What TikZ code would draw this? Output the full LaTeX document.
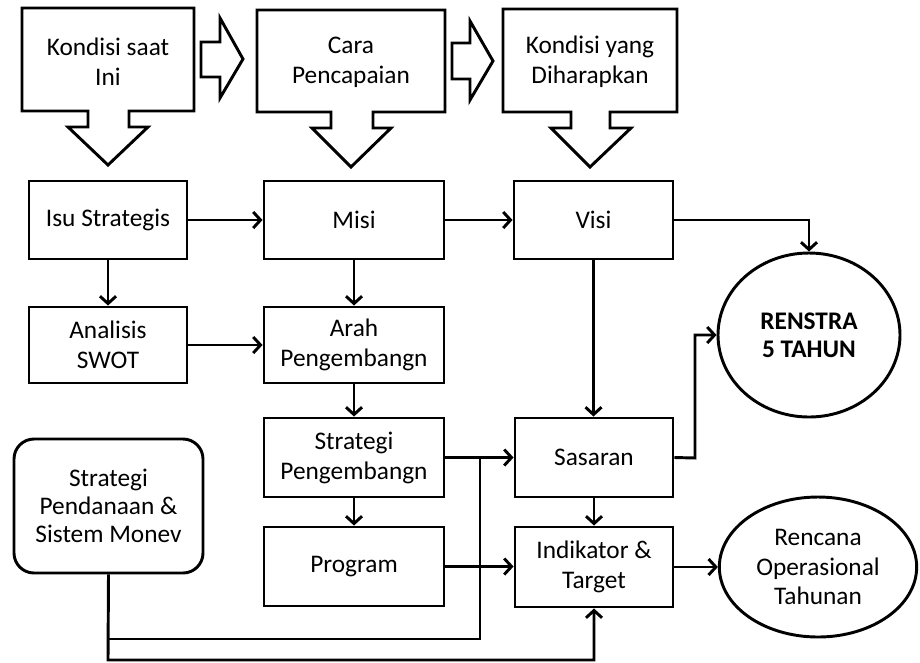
\documentclass[tikz,border=0pt]{standalone}
\usepackage{fontspec}
\setmainfont{Carlito}
\usetikzlibrary{arrows.meta,shapes.geometric}
\begin{document}
\begin{tikzpicture}[x=0.75pt,y=-0.75pt,
  line width=2.2pt,
  txt/.style={font=\fontsize{19}{22.5}\selectfont, align=center, inner sep=0pt},
  box/.style={draw, rectangle, txt, line width=2.2pt},
  oval/.style={draw, ellipse, txt, line width=2.2pt},
  callout/.style={draw, line width=2.2pt, line join=miter},
  conn/.style={line width=2.2pt, -{Straight Barb[length=5.5pt,width=12pt,line width=2.2pt]}},
  plain/.style={line width=2.2pt}
]
\useasboundingbox (0,0) rectangle (920,662);

% callouts
\draw[callout] (22,8) -- (194,8) -- (194,111) -- (129,111) -- (129,127) -- (148,127) -- (108,165) -- (68,127) -- (88,127) -- (88,111) -- (22,111) -- cycle;
\draw[callout] (257,10) -- (445,10) -- (445,112) -- (373,112) -- (373,128) -- (391,128) -- (351,167) -- (312,128) -- (331,128) -- (331,112) -- (257,112) -- cycle;
\draw[callout] (503,9) -- (677,9) -- (677,112) -- (610,112) -- (610,128) -- (631,128) -- (590,167) -- (551,128) -- (571,128) -- (571,112) -- (503,112) -- cycle;
\node[txt] (k1) at (108,62) {Kondisi saat\\Ini};
\node[txt] (k2) at (351,62) {Cara\\Pencapaian};
\node[txt] (k3) at (590,62) {Kondisi yang\\Diharapkan};

% block arrows
\draw[callout] (201,42) -- (220,42) -- (220,18) -- (243,59) -- (220,98) -- (220,77) -- (201,77) -- cycle;
\draw[callout] (452,43) -- (470,43) -- (470,21) -- (493,61) -- (470,100) -- (470,79) -- (452,79) -- cycle;

% boxes
\node[box, minimum width=118.5pt, minimum height=58.5pt] (isu) at (108,220) {Isu Strategis};
\node[box, minimum width=135pt, minimum height=58.5pt] (misi) at (354,220) {Misi};
\node[box, minimum width=119.25pt, minimum height=58.5pt] (visi) at (593.5,220) {Visi};
\node[box, minimum width=118.5pt, minimum height=57pt] (swot) at (108,345) {Analisis\\SWOT};
\node[box, minimum width=135pt, minimum height=57pt] (arah) at (354,345) {Arah\\Pengembangn};
\node[box, minimum width=135pt, minimum height=59.25pt] (strat) at (354,457.5) {Strategi\\Pengembangn};
\node[box, minimum width=135pt, minimum height=59.25pt] (prog) at (354,566.5) {Program};
\node[box, minimum width=118.5pt, minimum height=59.25pt] (sas) at (594,457.5) {Sasaran};
\node[box, minimum width=118.5pt, minimum height=60pt] (ind) at (594,567) {Indikator \&\\Target};
\node[box, rounded corners=15pt, minimum width=141.75pt, minimum height=100.5pt, font=\fontsize{19}{21}\selectfont] (dana) at (108.5,506) {Strategi\\Pendanaan \&\\Sistem Monev};
\node[oval, minimum width=136.5pt, minimum height=123pt, font=\fontsize{19}{21}\selectfont\bfseries] (renstra) at (809,335) {RENSTRA\\5 TAHUN};
\node[oval, minimum width=148pt, minimum height=105pt, font=\fontsize{19}{22}\selectfont] (renc) at (818,567) {Rencana\\Operasional\\Tahunan};

% connector helpers
\coordinate (vx) at (480,639);
\coordinate (low) at (108,660);
\coordinate (rx) at (695,458);

% connectors
\draw[conn] (isu) -- (misi);
\draw[conn] (misi) -- (visi);
\draw[conn] (visi.east) -| (renstra.north);
\draw[conn] (isu) -- (swot);
\draw[conn] (misi) -- (arah);
\draw[conn] (swot.east) -- (swot.east -| arah.west);
\draw[conn] (arah) -- (strat);
\draw[conn] (strat) -- (prog);
\draw[conn] (visi.south) -- (visi.south |- sas.north);
\draw[conn] (strat.east) -- (strat.east -| sas.west);
\draw[conn] (sas) -- (ind);
\draw[conn] (prog.east) -- (prog.east -| ind.west);
\draw[conn] (sas.east) -- (rx) |- (renstra.west);
\draw[conn] (ind.east) -- (ind.east -| renc.west);
\draw[conn] (dana.south) -- (low) -| (ind.south);
\draw[plain] (dana.south |- vx) -- (vx) -- (vx |- strat.east);
\end{tikzpicture}
\end{document}
